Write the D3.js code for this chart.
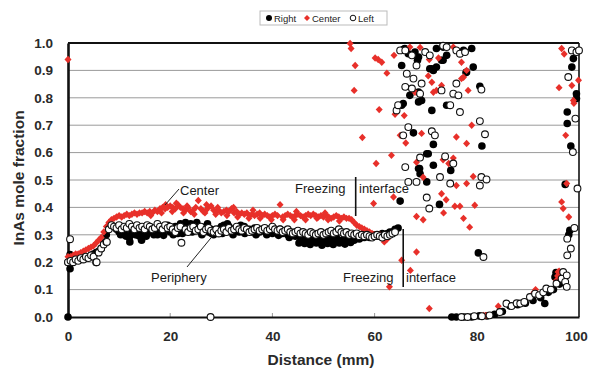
<!DOCTYPE html>
<html>
<head>
<meta charset="utf-8">
<script src="https://cdn.jsdelivr.net/npm/d3@7"></script>
<style>
	body { margin: 0; background: #fff; }
	svg { display: block; font-family: "Liberation Sans", Arial, sans-serif; }
</style>
</head>
<body>
<script>
// distance (mm), InAs mole fraction
var rightBand = [
	[0,0.20],[0.5,0.205],[1,0.21],[1.5,0.21],[2,0.215],[2.5,0.21],[3,0.22],[3.5,0.215],[4,0.22],[4.5,0.225],
	[5,0.23],[5.5,0.235],[6,0.24],[6.5,0.25],[7,0.27],[7.5,0.30],[8,0.33],[8.5,0.335],[9,0.33],[9.5,0.32],
	[10,0.31],[10.5,0.33],[11,0.30],[11.5,0.32],[12,0.29],[12.5,0.31],[13,0.33],[13.5,0.30],[14,0.295],[14.5,0.31],
	[15,0.32],[15.5,0.305],[16,0.33],[16.5,0.31],[17,0.32],[17.5,0.30],[18,0.325],[18.5,0.31],[19,0.32],[19.5,0.335],
	[20,0.31],[20.5,0.32],[21,0.33],[21.5,0.305],[22,0.34],[22.5,0.32],[23,0.345],[23.5,0.33],[24,0.34],[24.5,0.325],
	[25,0.335],[25.5,0.32],[26,0.31],[26.5,0.32],[27,0.33],[27.5,0.31],[28,0.32],[28.5,0.30],[29,0.31],[29.5,0.32],
	[30,0.33],[30.5,0.335],[31,0.32],[31.5,0.33],[32,0.31],[32.5,0.32],[33,0.325],[33.5,0.31],[34,0.32],[34.5,0.33],
	[35,0.315],[35.5,0.32],[36,0.31],[36.5,0.325],[37,0.32],[37.5,0.31],[38,0.315],[38.5,0.32],[39,0.31],[39.5,0.32],
	[40,0.305],[40.5,0.315],[41,0.31],[41.5,0.32],[42,0.305],[42.5,0.31],[43,0.30],[43.5,0.31],[44,0.305],[44.5,0.295],
	[45,0.30],[45.5,0.29],[46,0.295],[46.5,0.285],[47,0.29],[47.5,0.28],[48,0.29],[48.5,0.28],[49,0.285],[49.5,0.29],
	[50,0.28],[50.5,0.285],[51,0.275],[51.5,0.285],[52,0.28],[52.5,0.29],[53,0.28],[53.5,0.275],[54,0.285],[54.5,0.28],
	[55,0.29],[55.5,0.285],[56,0.28],[56.5,0.29],[57,0.285],[57.5,0.29],[58,0.29],[58.5,0.295],[59,0.29],[59.5,0.295],
	[60,0.30],[60.5,0.295],[61,0.30],[61.5,0.305],[62,0.30],[62.5,0.305],[63,0.31],[63.5,0.31],[64,0.32],
	[45.2,0.27],[46.3,0.268],[47.4,0.265],[48.6,0.27],[49.7,0.262],[50.8,0.268],[51.9,0.265],[53.1,0.27],[54.2,0.266],[55.3,0.272],
	[10.3,0.30],[11.4,0.295],[13.2,0.30],[15.3,0.295],[16.8,0.30],[18.7,0.298],[20.6,0.30],[22.4,0.305],[24.3,0.31],
	[26.2,0.30],[28.1,0.305],[30.2,0.305],[32.3,0.30],[34.6,0.305],[36.8,0.30],[38.9,0.30],[41.2,0.298],[43.3,0.29],
	[23.1,0.335],[25.2,0.345],[27.3,0.34],[31.2,0.34],[33.8,0.335]
]
var rightScatter = [
	[0,0],[0.4,0.228],[0.4,0.176],[12.1,0.274],[14.4,0.28],[65.0,0.423],[64.6,0.325],
	[65.6,0.976],[66.6,0.961],[67.9,0.967],[68.6,0.949],[72.1,0.98],[73.4,0.985],[74.1,0.955],[73.1,0.937],
	[72.1,0.912],[71.5,0.90],[71.2,0.906],[77.4,0.973],[79.0,0.98],[79.3,0.912],[78.0,0.894],[65.3,0.918],
	[68.4,0.937],[70.8,0.906],[73.4,0.937],[77.9,0.892],[65.9,0.98],
	[66.9,0.809],[68.6,0.821],[69.2,0.79],[65.6,0.779],[71.2,0.754],[74.1,0.773],[80.6,0.842],[68.6,0.785],[65.3,0.773],
	[67.6,0.672],[71.5,0.63],[81.0,0.624],[70.2,0.596],[71.5,0.554],[68.6,0.542],[68.9,0.523],[70.2,0.493],[74.9,0.535],
	[70.5,0.596],[68.8,0.542],
	[72.7,0.411],[80.3,0.234],
	[75.1,0],[76.0,0],[77.5,0],[79,0],[80.5,0.004],[82,0.004],[83.5,0.01],[85,0.02],[86.5,0.04],[88,0.045],
	[89.5,0.05],[91,0.06],[92.5,0.07],[93.3,0.049],[94,0.09],[95,0.1],[95.3,0.146],[96.2,0.12],[96.9,0.146],[96.5,0.13],
	[98.9,0.943],[98.6,0.912],[99.5,0.815],[99.5,0.797],[97.7,0.748],[97.7,0.706],[98.4,0.624],[97.3,0.484],
	[98.2,0.316],[98.0,0.30],[95.5,0.162]
]
var centerBand = [
	[0,0.22],[0.5,0.22],[1,0.225],[1.5,0.23],[2,0.23],[2.5,0.235],[3,0.24],[3.5,0.245],[4,0.25],[4.5,0.255],
	[5,0.26],[5.5,0.27],[6,0.28],[6.5,0.29],[7,0.31],[7.5,0.33],[8,0.345],[8.5,0.355],[9,0.36],[9.5,0.365],
	[10,0.37],[10.5,0.365],[11,0.37],[11.5,0.375],[12,0.37],[12.5,0.375],[13,0.38],[13.5,0.375],[14,0.38],[14.5,0.38],
	[15,0.385],[15.5,0.38],[16,0.385],[16.5,0.38],[17,0.39],[17.5,0.385],[18,0.395],[18.5,0.40],[19,0.395],[19.5,0.40],
	[20,0.405],[20.5,0.40],[21,0.395],[21.5,0.41],[22,0.40],[22.5,0.395],[23,0.39],[23.5,0.40],[24,0.385],[24.5,0.39],
	[25,0.40],[25.5,0.425],[26,0.395],[26.5,0.385],[27,0.39],[27.5,0.40],[28,0.405],[28.5,0.39],[29,0.385],[29.5,0.39],
	[30,0.38],[30.5,0.385],[31,0.39],[31.5,0.385],[32,0.395],[32.5,0.38],[33,0.385],[33.5,0.375],[34,0.38],[34.5,0.375],
	[35,0.38],[35.5,0.37],[36,0.375],[36.5,0.37],[37,0.375],[37.5,0.38],[38,0.37],[38.5,0.375],[39,0.37],[39.5,0.365],
	[40,0.37],[40.5,0.375],[41,0.37],[41.5,0.41],[42,0.365],[42.5,0.37],[43,0.375],[43.5,0.37],[44,0.365],[44.5,0.37],
	[45,0.375],[45.5,0.37],[46,0.365],[46.5,0.37],[47,0.375],[47.5,0.37],[48,0.375],[48.5,0.37],[49,0.365],[49.5,0.37],
	[50,0.365],[50.5,0.37],[51,0.365],[51.5,0.36],[52,0.365],[52.5,0.37],[53,0.365],[53.5,0.36],[54,0.365],[54.5,0.36],
	[55,0.36],[55.5,0.355],[56,0.345],[56.5,0.335],[57,0.33],[57.5,0.325],[58,0.32],[58.5,0.315],[59,0.31],[59.5,0.305],
	[60,0.30],[61,0.30],[62,0.29],[62.5,0.285],[61.9,0.274],
	[16.2,0.37],[18.3,0.38],[20.4,0.385],[22.6,0.38],[24.7,0.375],[26.8,0.38],[28.9,0.375],[31.1,0.37],[33.2,0.365],
	[35.4,0.36],[37.6,0.36],[39.8,0.355],[42.1,0.355],[44.3,0.355],[46.5,0.355],[48.7,0.36],[50.9,0.355],[53.1,0.35],
	[19.1,0.41],[21.2,0.415],[23.3,0.405],[27.1,0.41],[29.3,0.40],[32.4,0.40],[36.2,0.39],[44.7,0.385],[50.3,0.38]
]
var centerScatter = [
	[0,0.94],
	[55.2,0.998],[55.4,0.98],[56.2,0.918],[56.0,0.827],[60.7,0.94],[61.4,0.93],[60.1,0.945],[62.4,0.89],[60.9,0.757],
	[57.6,0.655],[60.3,0.56],[63.3,0.59],[64.0,0.74],[65.8,0.735],[65.0,0.663],[66.1,0.635],[69.2,0.67],[66.9,0.985],
	[68.9,0.984],[70.5,0.88],[71.2,0.857],[72.1,0.827],[71.5,0.82],[73.1,0.845],[70.7,0.94],[72.5,0.945],[75.4,0.985],
	[77.0,0.93],[77.4,0.875],[78.3,0.827],[76.0,0.657],[78.0,0.633],[79.0,0.70],[75.4,0.58],[73.4,0.574],[74.5,0.56],
	[68.2,0.565],[69.5,0.51],[79.3,0.513],[78.0,0.487],[76.0,0.48],[63.8,0.955],[67.9,0.82],[78.0,0.90],[77.0,0.87],
	[59.8,0.414],[63.7,0.438],[68.2,0.367],[69.5,0.355],[73.1,0.45],[74.0,0.428],[73.5,0.38],[75.7,0.404],[76.7,0.404],
	[77.4,0.36],[78.6,0.328],[79.6,0.408],[68.2,0.237],[65.3,0.207],[67.0,0.17],[62.9,0.11],[70.7,0.031],
	[81.3,0.006],[81.8,0.006],[84.2,0.039],[90.8,0.08],[91.2,0.09],[91.7,0.085],[91.5,0.1],[95.6,0.134],[95.9,0.164],[95.8,0.15],
	[96.6,0.98],[97.1,0.96],[96.1,0.837],[98.6,0.845],[99.9,0.864],[98.9,0.79],[99.0,0.78],[97.4,0.663],[97.6,0.487],
	[96.6,0.42],[96.9,0.396],[98.0,0.365],[96.1,0.167]
]
var leftBand = [
	[0,0.20],[0.5,0.205],[1,0.20],[1.5,0.21],[2,0.205],[2.5,0.215],[3,0.21],[3.5,0.22],[4,0.215],[4.5,0.225],
	[5,0.22],[5.5,0.20],[6,0.235],[6.5,0.25],[7,0.265],[7.5,0.275],[8,0.32],[8.5,0.335],[9,0.33],[9.5,0.325],
	[10,0.335],[10.5,0.32],[11,0.33],[11.5,0.325],[12,0.34],[12.5,0.33],[13,0.32],[13.5,0.335],[14,0.325],[14.5,0.33],
	[15,0.32],[15.5,0.335],[16,0.33],[16.5,0.32],[17,0.325],[17.5,0.34],[18,0.33],[18.5,0.32],[19,0.335],[19.5,0.325],
	[20,0.33],[20.5,0.32],[21,0.31],[21.5,0.325],[22,0.33],[23,0.32],[23.5,0.31],[24,0.325],[24.5,0.33],
	[25,0.315],[25.5,0.32],[26,0.33],[26.5,0.31],[27,0.32],[27.5,0.325],[28,0.315],[28.5,0.31],[29,0.32],[29.5,0.305],
	[30,0.315],[30.5,0.32],[31,0.31],[31.5,0.325],[32,0.315],[32.5,0.32],[33,0.33],[33.5,0.32],[34,0.315],[34.5,0.325],
	[35,0.32],[35.5,0.31],[36,0.315],[36.5,0.32],[37,0.325],[37.5,0.315],[38,0.32],[38.5,0.325],[39,0.315],[39.5,0.32],
	[40,0.33],[40.5,0.32],[41,0.315],[41.5,0.32],[42,0.31],[42.5,0.315],[43,0.32],[43.5,0.31],[44,0.305],[44.5,0.31],
	[45,0.315],[45.5,0.305],[46,0.31],[46.5,0.305],[47,0.30],[47.5,0.31],[48,0.305],[48.5,0.30],[49,0.305],[49.5,0.31],
	[50,0.30],[50.5,0.305],[51,0.31],[51.5,0.315],[52,0.305],[52.5,0.31],[53,0.32],[53.5,0.31],[54,0.305],[54.5,0.31],
	[55,0.30],[55.5,0.305],[56,0.30],[56.5,0.305],[57,0.295],[57.5,0.30],[58,0.295],[58.5,0.30],[59,0.295],[59.5,0.29],
	[60,0.295],[60.5,0.30],[61,0.295],[61.5,0.29],[62,0.30],[62.5,0.295],[63,0.30],[63.5,0.305],[64,0.31]
]
var leftScatter = [
	[0.4,0.284],[27.9,0],[22.2,0.271],[5.6,0.20],[7.6,0.274],
	[65,0.973],[66,0.973],[67.3,0.955],[68.2,0.918],[69.9,0.967],[70.8,0.955],[73.4,0.99],[74.1,0.985],[76.0,0.973],
	[76.7,0.961],[77.7,0.967],
	[66.3,0.888],[67.6,0.87],[66,0.84],[67.3,0.834],[69.2,0.852],[68.9,0.815],[73.1,0.827],[75.4,0.815],[76.4,0.809],
	[80.9,0.83],[76.0,0.852],
	[64.3,0.754],[64.6,0.773],[74.8,0.773],[76.7,0.748],
	[66.6,0.693],[65.6,0.663],[71.2,0.678],[71.8,0.663],[80.6,0.715],[81.6,0.667],
	[68.9,0.582],[73.8,0.586],[66,0.547],[75.4,0.56],[72.8,0.511],[80.9,0.511],[81.9,0.502],[66.6,0.493],[68.2,0.493],
	[74.8,0.487],[80.6,0.48],
	[70.2,0.436],[70.7,0.396],[81.3,0.219],
	[77,0],[78.2,0],[79.5,0.003],[81,0.003],[82.5,0.006],[84.5,0.018],[85.8,0.049],[86.8,0.04],[87.8,0.05],[88.5,0.049],
	[89.3,0.055],[90.4,0.073],[91.4,0.085],[92.2,0.08],[93,0.09],[93.6,0.104],[94.5,0.10],[95.6,0.122],[96.6,0.14],
	[96.9,0.164],[97.6,0.152],[97.3,0.128],[97.6,0.11],
	[98.6,0.973],[99.5,0.967],[100,0.973],[97.9,0.876],[99.3,0.724],[98.8,0.602],[99.7,0.469],[99.1,0.325],
	[97.7,0.286],[98.4,0.25],[97.7,0.225]
]

var xTicks = [0, 20, 40, 60, 80, 100]
var yTicks = [0, 0.1, 0.2, 0.3, 0.4, 0.5, 0.6, 0.7, 0.8, 0.9, 1.0]
var legendNames = ['Right', 'Center', 'Left']

var right = rightBand.concat(rightScatter)
var center = centerBand.concat(centerScatter)
var left = leftBand.concat(leftScatter)

var W = 589, H = 374
var m = { top: 43, right: 10, bottom: 57, left: 68 }
var red = '#e8302a'

var svg = d3.select('body').append('svg')
	.attr('width', W)
	.attr('height', H)

var x = d3.scaleLinear().domain([0, 100]).range([m.left, W - m.right])
var y = d3.scaleLinear().domain([0, 1]).range([H - m.bottom, m.top])

// grid
svg.append('g').selectAll('line')
	.data(yTicks.slice(1, -1))
	.enter().append('line')
	.attr('x1', x(0)).attr('x2', x(100))
	.attr('y1', function(d) { return y(d) })
	.attr('y2', function(d) { return y(d) })
	.attr('stroke', '#9a9a9a')
	.attr('stroke-width', 1)

// small inner ticks on the distance axis
svg.append('g').selectAll('line')
	.data(xTicks.slice(1, -1))
	.enter().append('line')
	.attr('x1', function(d) { return x(d) })
	.attr('x2', function(d) { return x(d) })
	.attr('y1', y(0)).attr('y2', y(0) - 4)
	.attr('stroke', '#999')

// frame
svg.append('line').attr('x1', x(0)).attr('x2', x(100)).attr('y1', y(1)).attr('y2', y(1))
	.attr('stroke', '#111').attr('stroke-width', 2.2)
svg.append('line').attr('x1', x(100)).attr('x2', x(100)).attr('y1', y(1)).attr('y2', y(0))
	.attr('stroke', '#111').attr('stroke-width', 1.6)

var xAxis = svg.append('g')
	.attr('transform', 'translate(0,' + y(0) + ')')
	.call(d3.axisBottom(x).tickValues(xTicks).tickSize(0).tickPadding(14).tickFormat(d3.format('d')))
var yAxis = svg.append('g')
	.attr('transform', 'translate(' + x(0) + ',0)')
	.call(d3.axisLeft(y).tickValues(yTicks).tickSize(0).tickPadding(15).tickFormat(d3.format('.1f')))

xAxis.select('.domain').attr('stroke', '#111').attr('stroke-width', 2.2)
yAxis.select('.domain').attr('stroke', '#111').attr('stroke-width', 2.6)
svg.selectAll('.tick text')
	.attr('font-family', '"Liberation Sans", Arial, sans-serif')
	.attr('font-size', 13.5)
	.attr('font-weight', 'bold')
	.attr('fill', '#2a2a2a')
// keep "100" inside the page
xAxis.selectAll('.tick text').filter(function(d) { return d === 100 }).attr('dx', -3)

svg.append('text')
	.attr('x', 321).attr('y', 365)
	.attr('text-anchor', 'middle')
	.attr('font-size', 15.5).attr('font-weight', 'bold').attr('fill', '#2a2a2a')
	.text('Distance (mm)')
svg.append('text')
	.attr('transform', 'translate(24,178) rotate(-90)')
	.attr('text-anchor', 'middle')
	.attr('font-size', 15.5).attr('font-weight', 'bold').attr('fill', '#2a2a2a')
	.text('InAs mole fraction')

// markers
var diamond = 'M0,-3.7L3.5,0L0,3.7L-3.5,0Z'

var plot = svg.append('g')

plot.selectAll('circle.right')
	.data(right)
	.enter().append('circle')
	.attr('class', 'right')
	.attr('cx', function(d) { return x(d[0]) })
	.attr('cy', function(d) { return y(d[1]) })
	.attr('r', 3.8)
	.attr('fill', '#000')

plot.selectAll('path.center')
	.data(center)
	.enter().append('path')
	.attr('class', 'center')
	.attr('d', diamond)
	.attr('transform', function(d) { return 'translate(' + x(d[0]) + ',' + y(d[1]) + ')' })
	.attr('fill', red)

plot.selectAll('circle.left')
	.data(left)
	.enter().append('circle')
	.attr('class', 'left')
	.attr('cx', function(d) { return x(d[0]) })
	.attr('cy', function(d) { return y(d[1]) })
	.attr('r', 3.4)
	.attr('fill', '#fff')
	.attr('stroke', '#111')
	.attr('stroke-width', 1.1)

// annotations
var ann = svg.append('g')
	.attr('font-size', 13).attr('fill', '#1a1a1a')

ann.append('text').attr('x', 180).attr('y', 195).text('Center')
ann.append('line').attr('x1', 179).attr('y1', 189).attr('x2', 165).attr('y2', 205)
	.attr('stroke', '#222').attr('stroke-width', 1)
ann.append('text').attr('x', 151).attr('y', 282).text('Periphery')
ann.append('line').attr('x1', 215).attr('y1', 233).attr('x2', 187).attr('y2', 267)
	.attr('stroke', '#222').attr('stroke-width', 1)

ann.append('text').attr('x', 295).attr('y', 193).text('Freezing')
ann.append('text').attr('x', 359).attr('y', 193).text('interface')
ann.append('line').attr('x1', x(56.3)).attr('x2', x(56.3)).attr('y1', 177).attr('y2', 216)
	.attr('stroke', '#111').attr('stroke-width', 1.6)

ann.append('text').attr('x', 343).attr('y', 282).text('Freezing')
ann.append('text').attr('x', 406).attr('y', 282).text('interface')
ann.append('line').attr('x1', x(65.6)).attr('x2', x(65.6)).attr('y1', 229).attr('y2', 287)
	.attr('stroke', '#111').attr('stroke-width', 1.6)

// legend
var lg = svg.append('g').attr('transform', 'translate(260,11)')
lg.append('rect').attr('width', 127).attr('height', 14)
	.attr('fill', '#fff').attr('stroke', '#bbb')
var lx = [9, 47, 93]
lg.append('circle').attr('cx', lx[0]).attr('cy', 7).attr('r', 3).attr('fill', '#000')
lg.append('path').attr('d', 'M0,-3L3,0L0,3L-3,0Z').attr('transform', 'translate(' + lx[1] + ',7)').attr('fill', red)
lg.append('circle').attr('cx', lx[2]).attr('cy', 7).attr('r', 2.8).attr('fill', '#fff').attr('stroke', '#111')
lg.selectAll('text')
	.data(legendNames)
	.enter().append('text')
	.attr('x', function(d, i) { return lx[i] + 5 })
	.attr('y', 10.5)
	.attr('font-size', 9.5)
	.attr('fill', '#222')
	.text(function(d) { return d })
</script>
</body>
</html>
